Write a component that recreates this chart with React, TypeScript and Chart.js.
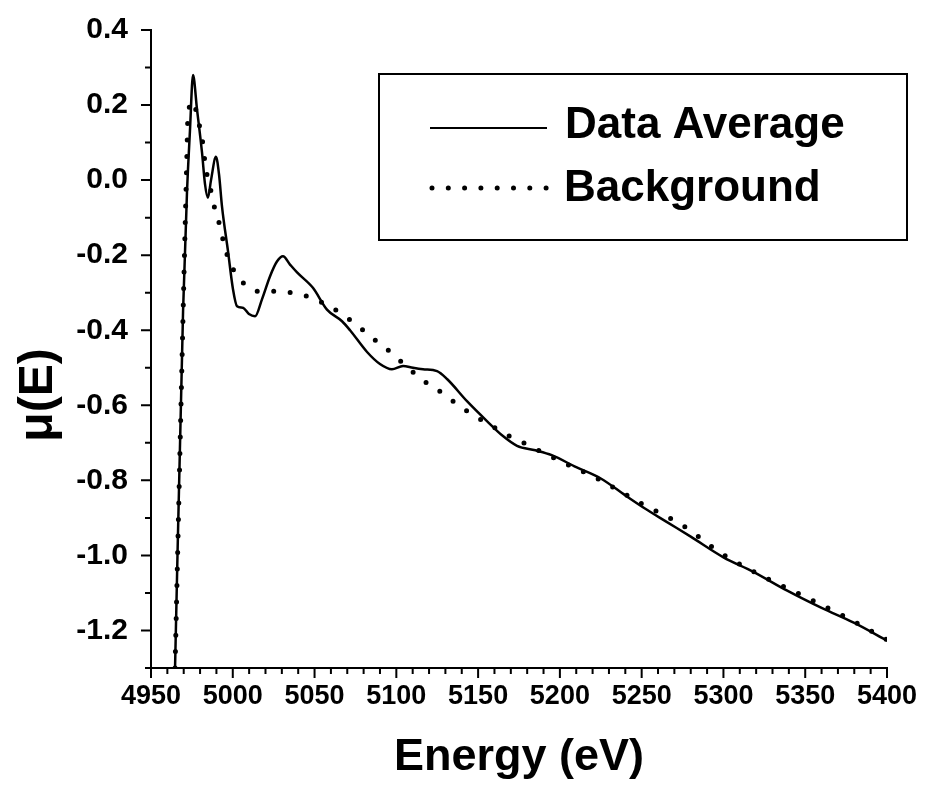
import React, { useEffect, useRef } from "react";
import { Chart, registerables } from "chart.js";

Chart.register(...registerables);

// Data Average (solid line): energy (eV) and mu(E)
const avgEnergy = [4964.7, 4969.6, 4972.0, 4973.8, 4975.7, 4978.1, 4981.2, 4983.0, 4984.8, 4986.7, 4989.7, 4991.6, 4993.4, 4997.1, 5000.1, 5002.6, 5006.2, 5009.9, 5013.6, 5017.9, 5022.8, 5027.0, 5030.7, 5035.0, 5039.3, 5049.0, 5057.6, 5066.8, 5071.7, 5082.1, 5090.0, 5097.3, 5104.1, 5110.2, 5116.3, 5124.9, 5131.0, 5143.2, 5155.4, 5165.2, 5173.8, 5185, 5195, 5210, 5225, 5240, 5252, 5265, 5280, 5300, 5318, 5339, 5360, 5380, 5400];
const avgMu = [-1.3, -0.35, -0.033, 0.13, 0.28, 0.19, 0.073, -0.01, -0.047, 0.0, 0.062, 0.015, -0.07, -0.19, -0.29, -0.336, -0.34, -0.357, -0.363, -0.317, -0.256, -0.217, -0.203, -0.225, -0.246, -0.287, -0.345, -0.376, -0.4, -0.458, -0.49, -0.504, -0.495, -0.5, -0.504, -0.509, -0.53, -0.589, -0.642, -0.682, -0.708, -0.72, -0.733, -0.765, -0.795, -0.84, -0.875, -0.91, -0.95, -1.005, -1.043, -1.094, -1.14, -1.18, -1.227];

// Background (dotted line)
const bgEnergy = [4964.7, 4972.0, 4972.6, 4975.7, 4978.7, 4981.2, 4982.4, 4984.2, 4986.7, 4989.1, 4992.2, 4994.6, 4998.3, 5005.6, 5015.4, 5025.8, 5036.2, 5046.0, 5056.4, 5066.8, 5076.6, 5087.0, 5097.3, 5106.5, 5116.9, 5127.3, 5137.1, 5146.9, 5156.7, 5166.4, 5176.8, 5200, 5225, 5250, 5275, 5300, 5325, 5350, 5375, 5400];
const bgMu = [-1.3, 0.076, 0.17, 0.21, 0.16, 0.113, 0.068, 0.015, -0.03, -0.078, -0.123, -0.17, -0.22, -0.27, -0.296, -0.296, -0.3, -0.31, -0.33, -0.357, -0.389, -0.426, -0.461, -0.498, -0.535, -0.565, -0.597, -0.626, -0.65, -0.676, -0.698, -0.748, -0.8, -0.862, -0.92, -0.998, -1.058, -1.11, -1.165, -1.225];

const seriesNames = ["Data Average", "Background"];
const xTitle = "Energy (eV)";
const yTitle = "μ(E)";
const xRange = [4950, 5400];
const yRange = [-1.3, 0.4];

const FONT = "'Liberation Sans', Arial, Helvetica, sans-serif";

const tickPlugin = {
  id: "customTicks",
  afterDraw(chart: any) {
    const ctx = chart.ctx;
    const xs = chart.scales.x;
    const ys = chart.scales.y;
    const area = chart.chartArea;
    ctx.save();
    ctx.strokeStyle = "#000";
    ctx.lineWidth = 2;
    ctx.beginPath();
    xs.ticks.forEach((t: any) => {
      const px = xs.getPixelForValue(t.value);
      const major = Math.round(t.value) % 50 === 0;
      ctx.moveTo(px, area.bottom);
      ctx.lineTo(px, area.bottom + (major ? 10 : 6));
    });
    ys.ticks.forEach((t: any) => {
      const py = ys.getPixelForValue(t.value);
      const major = Math.round(t.value * 10) % 2 === 0;
      ctx.moveTo(area.left, py);
      ctx.lineTo(area.left - (major ? 10 : 6), py);
    });
    ctx.stroke();
    // y axis title
    ctx.save();
    ctx.translate(39, 395);
    ctx.rotate(-Math.PI / 2);
    ctx.fillStyle = "#000";
    ctx.font = `bold 48px ${FONT}`;
    ctx.textAlign = "center";
    ctx.textBaseline = "middle";
    ctx.fillText(yTitle, 0, 0);
    ctx.restore();
    ctx.restore();
  },
};

const legendPlugin = {
  id: "boxLegend",
  afterDraw(chart: any) {
    const ctx = chart.ctx;
    const ds = chart.data.datasets;
    ctx.save();
    ctx.strokeStyle = "#000";
    ctx.lineWidth = 2;
    ctx.strokeRect(379, 74, 528, 166);
    // solid sample
    ctx.beginPath();
    ctx.lineWidth = 2;
    ctx.moveTo(430, 128);
    ctx.lineTo(547, 128);
    ctx.stroke();
    // dotted sample
    ctx.beginPath();
    ctx.lineWidth = 5;
    ctx.lineCap = "round";
    ctx.setLineDash([0, 16.3]);
    ctx.moveTo(432, 188);
    ctx.lineTo(548, 188);
    ctx.stroke();
    ctx.setLineDash([]);
    ctx.fillStyle = "#000";
    ctx.font = `bold 44px ${FONT}`;
    ctx.textBaseline = "middle";
    ctx.textAlign = "left";
    ctx.fillText(ds[0].label, 565, 126);
    ctx.fillText(ds[1].label, 564, 189);
    ctx.restore();
  },
};

export default function App() {
  const ref = useRef<HTMLCanvasElement | null>(null);
  useEffect(() => {
    if (!ref.current) return;
    Chart.defaults.font.family = FONT;
    Chart.defaults.color = "#000";
    const chart = new Chart(ref.current, {
      type: "scatter",
      data: {
        datasets: [
          {
            label: seriesNames[0],
            data: avgEnergy.map((e, i) => ({ x: e, y: avgMu[i] })),
            showLine: true,
            borderColor: "#000",
            borderWidth: 2.5,
            pointRadius: 0,
            cubicInterpolationMode: "monotone",
          },
          {
            label: seriesNames[1],
            data: bgEnergy.map((e, i) => ({ x: e, y: bgMu[i] })),
            showLine: true,
            borderColor: "#000",
            borderWidth: 5,
            borderCapStyle: "round",
            borderDash: [0, 16.5],
            pointRadius: 0,
            cubicInterpolationMode: "monotone",
          },
        ],
      },
      options: {
        animation: false,
        responsive: false,
        maintainAspectRatio: false,
        layout: { padding: { top: 30, right: 38, left: 0, bottom: 0 } },
        plugins: {
          legend: { display: false },
          tooltip: { enabled: false },
        },
        scales: {
          x: {
            type: "linear",
            min: xRange[0],
            max: xRange[1],
            afterFit: (s: any) => {
              s.height = 127;
              s.paddingLeft = 0;
              s.paddingRight = 0;
              s.paddingTop = 0;
              s.paddingBottom = 0;
            },
            ticks: {
              stepSize: 10,
              autoSkip: false,
              maxRotation: 0,
              padding: 12,
              font: { size: 27, weight: "bold" },
              callback: (v: any) => (Math.round(v) % 50 === 0 ? String(Math.round(v)) : ""),
            },
            grid: { drawOnChartArea: false, drawTicks: false },
            border: { display: true, color: "#000", width: 2 },
            title: {
              display: true,
              text: xTitle,
              font: { size: 45, weight: "bold", lineHeight: 1 },
              padding: { top: 0, bottom: 15 },
            },
          },
          y: {
            type: "linear",
            min: yRange[0],
            max: yRange[1],
            afterFit: (s: any) => {
              s.width = 151;
              s.paddingLeft = 0;
              s.paddingRight = 0;
              s.paddingTop = 0;
              s.paddingBottom = 0;
            },
            ticks: {
              stepSize: 0.1,
              autoSkip: false,
              padding: 23,
              font: { size: 30, weight: "bold" },
              callback: (v: any) => {
                const k = Math.round(v * 10);
                return k % 2 === 0 ? (k / 10).toFixed(1) : "";
              },
            },
            grid: { drawOnChartArea: false, drawTicks: false },
            border: { display: true, color: "#000", width: 2 },
            title: { display: false },
          },
        },
      },
      plugins: [tickPlugin, legendPlugin],
    });
    return () => chart.destroy();
  }, []);
  return (
    <div style={{ position: "absolute", left: 0, top: 0, width: 925, height: 795, background: "#fff" }}>
      <canvas ref={ref} width={925} height={795} style={{ display: "block" }} />
    </div>
  );
}
